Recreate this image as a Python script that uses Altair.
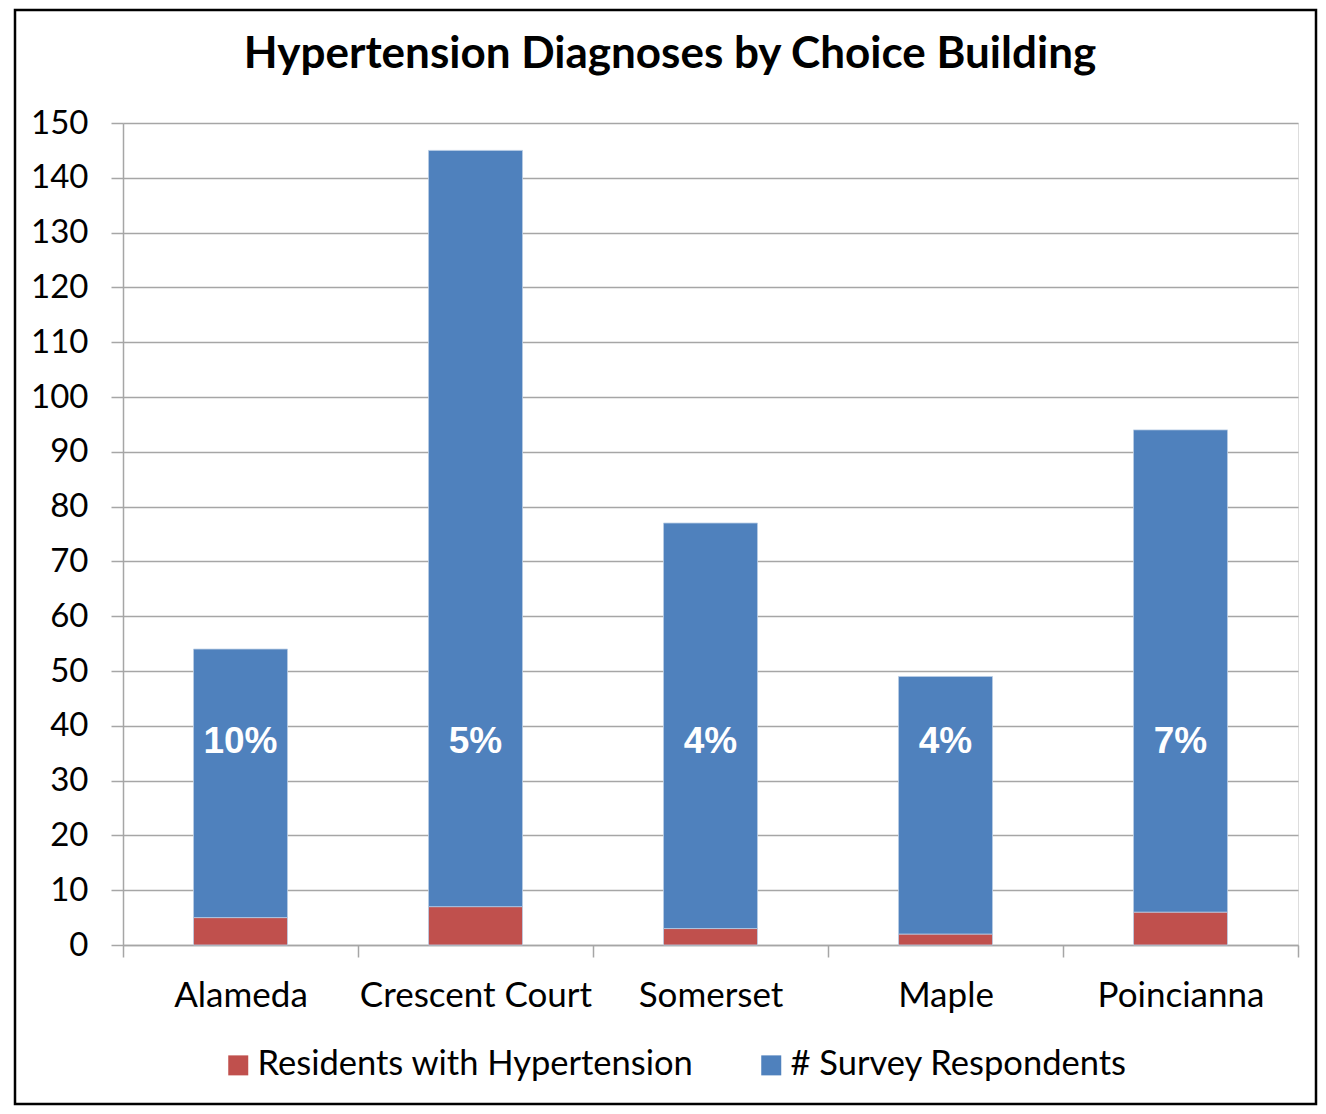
import altair as alt
import pandas as pd

title_text = ["Hypertension Diagnoses by Choice Building"]
buildings = ["Alameda", "Crescent Court", "Somerset", "Maple", "Poincianna"]
hypertension = [5, 7, 3, 2, 6]
respondents = [49, 138, 74, 47, 88]
series = ["Residents with Hypertension", "# Survey Respondents"]
colors = ["#C0504D", "#4F81BD"]
y_ticks = list(range(0, 151, 10))

rows = []
for b, h, r in zip(buildings, hypertension, respondents):
    rows.append({"building": b, "series": series[0], "value": h, "ord": 0})
    rows.append({"building": b, "series": series[1], "value": r, "ord": 1})
df = pd.DataFrame(rows)

lab = pd.DataFrame({
    "building": buildings,
    "pct": [f"{round(h / r * 100)}%" for h, r in zip(hypertension, respondents)],
})

FONT = "Lato"
GRID = "#A6A6A6"

x_enc = alt.X(
    "building:N",
    sort=buildings,
    scale=alt.Scale(paddingInner=0, paddingOuter=0),
    axis=alt.Axis(
        title=None, labelAngle=0, tickBand="extent", labelFont=FONT,
        labelFontSize=35, labelColor="#000000", labelPadding=38,
        labelBaseline="middle", labelLimit=0, tickSize=12, tickColor=GRID,
        domainColor=GRID, tickWidth=1.5, domainWidth=1.5, grid=False,
    ),
)

bars = alt.Chart(df).mark_bar(
    stroke="#B9CDE5", strokeWidth=0.8, width=alt.RelativeBandSize(0.4)
).encode(
    x=x_enc,
    y=alt.Y(
        "value:Q", stack="zero",
        scale=alt.Scale(domain=[0, 150], nice=False),
        axis=alt.Axis(
            title=None, values=y_ticks, labelFont=FONT, labelFontSize=33,
            labelColor="#000000", labelPadding=23, tickSize=12,
            tickColor=GRID, domainColor=GRID, gridColor=GRID,
            gridWidth=1.5, tickWidth=1.5, domainWidth=1.5,
        ),
    ),
    color=alt.Color(
        "series:N",
        scale=alt.Scale(domain=series, range=colors),
        legend=alt.Legend(
            title=None, orient="none", legendX=98, legendY=925,
            direction="horizontal", symbolType="square", symbolSize=400,
            symbolStrokeWidth=0, labelFont=FONT, labelFontSize=34.5,
            labelColor="#000000", labelOffset=2, columnPadding=60, padding=0,
            labelLimit=0,
        ),
    ),
    order=alt.Order("ord:Q", sort="ascending"),
)

text = alt.Chart(lab).mark_text(
    font="Liberation Sans", fontWeight="bold", fontSize=37, color="white",
    baseline="middle", align="center",
).encode(
    x=alt.X("building:N", sort=buildings),
    y=alt.datum(37),
    text="pct:N",
)

title = alt.Chart(pd.DataFrame({"t": title_text})).mark_text(
    font=FONT, fontWeight="bold", fontSize=44, color="#000000",
    baseline="alphabetic", align="center",
).encode(x=alt.value(547), y=alt.value(-55), text="t:N")

frame = alt.Chart(alt.Data(values=[{"a": 1}])).mark_rect(
    filled=False, stroke="#000000", strokeWidth=2.5, clip=False
).encode(
    x=alt.value(-108), x2=alt.value(1193), y=alt.value(-113), y2=alt.value(981)
)

chart = alt.layer(bars, text, title, frame).properties(
    width=1175,
    height=822,
    autosize=alt.AutoSizeParams(type="none"),
    padding={"left": 115, "top": 115, "right": 20, "bottom": 161},
).configure_view(stroke=None).configure(background="white")

chart.save("out.html", embed_options={"renderer": "svg", "actions": False})
